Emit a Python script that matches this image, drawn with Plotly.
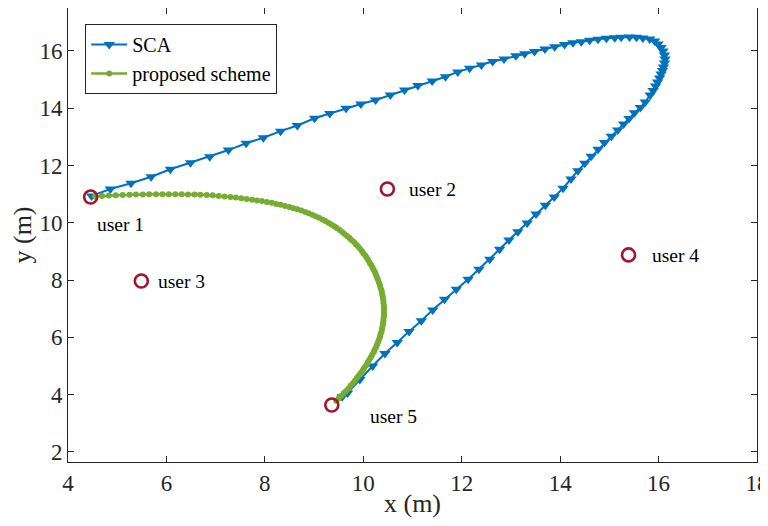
import plotly.graph_objects as go

# ---- data ----
sca_x = [4.48, 4.86, 5.28, 5.69, 6.08, 6.49, 6.88, 7.26, 7.62, 7.97, 8.32, 8.66, 9.01, 9.32, 9.65, 9.95,
         10.25, 10.55, 10.84, 11.11, 11.40, 11.67, 11.92, 12.16, 12.40, 12.63, 12.86, 13.10, 13.28, 13.48,
         13.69, 13.89, 14.09, 14.26, 14.43, 14.60, 14.77, 14.94, 15.11, 15.24, 15.41, 15.55, 15.68, 15.82,
         15.92, 15.99, 16.05, 16.09, 16.12, 16.13, 16.12, 16.10, 16.08, 16.05, 16.02, 15.98, 15.94, 15.89,
         15.83, 15.73, 15.63, 15.51, 15.40, 15.29, 15.17, 15.04, 14.90, 14.77, 14.63, 14.50, 14.36, 14.22,
         14.06, 13.88, 13.70, 13.51, 13.33, 13.14, 12.96, 12.77, 12.57, 12.35, 12.13, 11.89, 11.65, 11.41,
         11.18, 10.93, 10.69, 10.44, 10.19, 9.93, 9.68, 9.57]
sca_y = [10.94, 11.18, 11.38, 11.61, 11.87, 12.10, 12.31, 12.54, 12.78, 12.97, 13.20, 13.40, 13.65, 13.82,
         14.00, 14.15, 14.29, 14.46, 14.64, 14.79, 14.95, 15.10, 15.27, 15.40, 15.51, 15.63, 15.72, 15.83,
         15.90, 15.98, 16.07, 16.15, 16.23, 16.29, 16.32, 16.37, 16.41, 16.44, 16.46, 16.48, 16.49, 16.48,
         16.45, 16.42, 16.35, 16.24, 16.12, 16.00, 15.86, 15.72, 15.58, 15.44, 15.32, 15.20, 15.06, 14.92,
         14.78, 14.62, 14.46, 14.22, 14.03, 13.84, 13.64, 13.45, 13.24, 13.02, 12.80, 12.57, 12.32, 12.08,
         11.82, 11.53, 11.21, 10.90, 10.61, 10.31, 9.99, 9.69, 9.40, 9.08, 8.73, 8.38, 8.03, 7.68, 7.33,
         6.96, 6.58, 6.21, 5.82, 5.44, 5.00, 4.53, 4.06, 3.93]

prop_x = [4.55, 4.69, 4.83, 4.97, 5.11, 5.25, 5.38, 5.52, 5.65, 5.79, 5.92, 6.05, 6.18, 6.31, 6.44, 6.57,
          6.69, 6.82, 6.94, 7.06, 7.18, 7.30, 7.41, 7.52, 7.63, 7.74, 7.84, 7.94, 8.04, 8.14, 8.23, 8.32,
          8.41, 8.50, 8.58, 8.66, 8.74, 8.82, 8.89, 8.96, 9.03, 9.10, 9.17, 9.23, 9.29, 9.35, 9.41, 9.46,
          9.52, 9.57, 9.62, 9.67, 9.72, 9.76, 9.81, 9.85, 9.89, 9.93, 9.97, 10.00, 10.04, 10.07, 10.10,
          10.13, 10.16, 10.19, 10.21, 10.24, 10.26, 10.28, 10.30, 10.32, 10.34, 10.35, 10.37, 10.38, 10.39,
          10.40, 10.41, 10.41, 10.42, 10.42, 10.42, 10.42, 10.42, 10.41, 10.41, 10.40, 10.39, 10.38, 10.37,
          10.35, 10.34, 10.32, 10.30, 10.28, 10.26, 10.23, 10.21, 10.18, 10.15, 10.12, 10.09, 10.06, 10.02,
          9.99, 9.95, 9.91, 9.87, 9.83, 9.79, 9.74, 9.70, 9.65, 9.60, 9.55, 9.50, 9.45]
prop_y = [10.92, 10.94, 10.95, 10.96, 10.97, 10.98, 10.99, 10.99, 11.00, 11.00, 11.00, 11.00, 11.00, 11.00,
          10.99, 10.99, 10.98, 10.97, 10.96, 10.94, 10.92, 10.90, 10.88, 10.86, 10.83, 10.81, 10.78, 10.76,
          10.73, 10.70, 10.66, 10.63, 10.59, 10.55, 10.51, 10.47, 10.43, 10.38, 10.33, 10.28, 10.23, 10.18,
          10.12, 10.06, 10.00, 9.94, 9.88, 9.82, 9.75, 9.68, 9.61, 9.54, 9.47, 9.40, 9.33, 9.25, 9.18, 9.10,
          9.02, 8.94, 8.86, 8.78, 8.70, 8.61, 8.53, 8.44, 8.36, 8.27, 8.18, 8.09, 8.00, 7.91, 7.82, 7.73,
          7.64, 7.55, 7.46, 7.37, 7.28, 7.19, 7.10, 7.01, 6.92, 6.83, 6.74, 6.65, 6.56, 6.47, 6.38, 6.29,
          6.20, 6.11, 6.02, 5.93, 5.84, 5.75, 5.66, 5.57, 5.48, 5.39, 5.30, 5.21, 5.12, 5.03, 4.94, 4.85,
          4.76, 4.67, 4.58, 4.49, 4.40, 4.31, 4.22, 4.13, 4.04, 3.95, 3.87, 3.79]

user_x = [4.46, 10.49, 5.49, 15.39, 9.36]
user_y = [10.90, 11.18, 7.97, 8.88, 3.64]
user_names = ["user 1", "user 2", "user 3", "user 4", "user 5"]

x_ticks = [4, 6, 8, 10, 12, 14, 16, 18]
y_ticks = [2, 4, 6, 8, 10, 12, 14, 16]

# label offsets in pixels (style only)
label_shift = [(4, -27), (20, 0), (15, -1), (21, -1), (36, -11)]

FONT = "Liberation Serif, Times New Roman, serif"
BLUE = "#0072BD"
GREEN = "#77AC30"
RED = "#A2142F"
AX = "#262626"

fig = go.Figure()
fig.add_trace(go.Scatter(
    x=sca_x, y=sca_y, mode="lines+markers", name="SCA",
    line=dict(color=BLUE, width=2),
    marker=dict(symbol="triangle-down", size=10, color=BLUE),
))
fig.add_trace(go.Scatter(
    x=prop_x, y=prop_y, mode="lines+markers", name="proposed scheme",
    line=dict(color=GREEN, width=2.5),
    marker=dict(symbol="circle", size=6, color=GREEN),
))
fig.add_trace(go.Scatter(
    x=user_x, y=user_y, mode="markers", showlegend=False,
    marker=dict(symbol="circle-open", size=13, color=RED, line=dict(width=2.6, color=RED)),
))

for ux, uy, name, (dx, dy) in zip(user_x, user_y, user_names, label_shift):
    fig.add_annotation(x=ux, y=uy, text=name, showarrow=False, xanchor="left", yanchor="middle",
                       xshift=dx, yshift=dy, font=dict(family=FONT, size=19.5, color="black"))

axis_common = dict(
    showgrid=False, zeroline=False, ticks="inside", ticklen=6, tickwidth=1,
    tickcolor=AX, showline=True, linecolor=AX, linewidth=1, mirror="ticks",
    tickfont=dict(family=FONT, size=23, color=AX), automargin=False,
    ticklabeloverflow="allow",
)
fig.update_xaxes(range=[4, 18], tickvals=x_ticks, ticktext=[str(v) for v in x_ticks],
                 title=dict(text="x (m)", font=dict(family=FONT, size=26, color=AX), standoff=4),
                 **axis_common)
fig.update_yaxes(range=[1.65, 17.5], tickvals=y_ticks, ticktext=[str(v) for v in y_ticks],
                 title=dict(text="y (m)", font=dict(family=FONT, size=26, color=AX), standoff=4),
                 **axis_common)

# the page body has an 8px default margin; size and margins compensate for it
fig.update_layout(
    width=752, height=510,
    margin=dict(l=60, r=3, t=0, b=56),
    plot_bgcolor="white", paper_bgcolor="white",
    showlegend=True,
    legend=dict(x=0.025, y=0.965, xanchor="left", yanchor="top",
                bgcolor="white", bordercolor=AX, borderwidth=1,
                font=dict(family=FONT, size=20, color="black"),
                tracegroupgap=0, itemwidth=36),
)

fig.write_html("out.html")
